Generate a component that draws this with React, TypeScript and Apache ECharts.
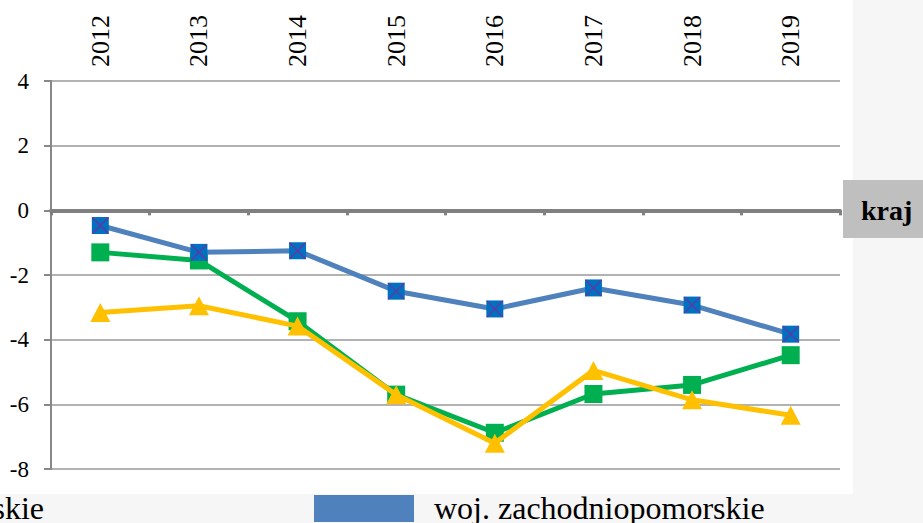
import React, { useEffect, useRef } from "react";
import * as echarts from "echarts";

const years = ["2012", "2013", "2014", "2015", "2016", "2017", "2018", "2019"];
const zachodniopomorskie = [-0.47, -1.3, -1.25, -2.5, -3.05, -2.4, -2.93, -3.83];
const greenSeries = [-1.3, -1.55, -3.43, -5.7, -6.88, -5.68, -5.4, -4.48];
const yellowSeries = [-3.16, -2.95, -3.58, -5.7, -7.2, -4.95, -5.86, -6.34];
const yTicks = { min: -8, max: 4, interval: 2 };
const legendName = "woj. zachodniopomorskie";
const cutLegendText = "skie";
const zeroLabel = "kraj";

const SERIF = "Liberation Serif";

export default function App() {
  const ref = useRef<HTMLDivElement>(null);
  useEffect(() => {
    if (!ref.current) return;
    const chart = echarts.init(ref.current, null, { renderer: "svg" });
    chart.setOption({
      animation: false,
      backgroundColor: "#ffffff",
      textStyle: { fontFamily: SERIF },
      grid: { left: 51, right: 83, top: 81, bottom: 54, containLabel: false },
      xAxis: [
        {
          type: "category",
          data: years,
          position: "top",
          boundaryGap: true,
          axisLine: { show: false, onZero: false },
          axisTick: { show: false },
          splitLine: { show: false },
          axisLabel: {
            rotate: -90,
            margin: 14,
            fontSize: 26,
            fontFamily: SERIF,
            color: "#000",
          },
        },
        {
          type: "category",
          data: years,
          position: "bottom",
          boundaryGap: true,
          axisLine: { show: true, onZero: true, lineStyle: { color: "#808080", width: 4 } },
          axisTick: { show: true, length: 5, lineStyle: { color: "#808080", width: 3 } },
          axisLabel: { show: false },
          splitLine: { show: false },
        },
      ],
      yAxis: {
        type: "value",
        min: yTicks.min,
        max: yTicks.max,
        interval: yTicks.interval,
        axisLine: { show: true, lineStyle: { color: "#888888", width: 2 } },
        axisTick: { show: true, length: 7, lineStyle: { color: "#888888", width: 2 } },
        splitLine: { show: true, lineStyle: { color: "#999999", width: 1.5 } },
        axisLabel: { margin: 22, fontSize: 23, fontFamily: SERIF, color: "#000" },
      },
      series: [
        {
          name: "green",
          type: "line",
          data: greenSeries,
          xAxisIndex: 0,
          symbol: "rect",
          symbolSize: 18,
          lineStyle: { color: "#00B050", width: 5 },
          itemStyle: { color: "#00B050" },
          silent: true,
          z: 3,
        },
        {
          name: "yellow",
          type: "line",
          data: yellowSeries,
          xAxisIndex: 0,
          symbol: "triangle",
          symbolSize: [20, 19],
          lineStyle: { color: "#FFC000", width: 5 },
          itemStyle: { color: "#FFC000" },
          silent: true,
          z: 4,
        },
        {
          name: legendName,
          type: "line",
          data: zachodniopomorskie,
          xAxisIndex: 0,
          symbol: "rect",
          symbolSize: 17,
          lineStyle: { color: "#4F81BD", width: 5 },
          itemStyle: { color: "#0070C0" },
          silent: true,
          z: 5,
        },
        {
          name: legendName + " x",
          type: "line",
          data: zachodniopomorskie,
          xAxisIndex: 0,
          symbol: "path://M0,0L10,10M10,0L0,10",
          symbolSize: 16,
          showAllSymbol: true,
          lineStyle: { width: 0, opacity: 0 },
          itemStyle: { color: "rgba(0,0,0,0)", borderColor: "#7030A0", borderWidth: 1.2 },
          silent: true,
          z: 6,
        },
      ],
      graphic: [
        { type: "rect", shape: { x: 853, y: 0, width: 70, height: 523 }, style: { fill: "#f6f6f6" }, z: -10 },
        { type: "rect", shape: { x: 0, y: 494, width: 853, height: 29 }, style: { fill: "#f6f6f6" }, z: -10 },
        { type: "rect", shape: { x: 843, y: 180, width: 90, height: 58 }, style: { fill: "#BFBFBF" } },
        {
          type: "text",
          x: 861,
          y: 210,
          style: {
            text: zeroLabel,
            fontFamily: SERIF,
            fontSize: 28,
            fontWeight: "bold",
            fill: "#000",
            verticalAlign: "middle",
            align: "left",
          },
        },
        { type: "rect", shape: { x: 314, y: 495, width: 100, height: 27 }, style: { fill: "#4F81BD" } },
        {
          type: "text",
          x: 434,
          y: 508,
          style: {
            text: legendName,
            fontFamily: SERIF,
            fontSize: 32,
            fill: "#000",
            verticalAlign: "middle",
            align: "left",
          },
        },
        {
          type: "text",
          x: 44,
          y: 508,
          style: {
            text: cutLegendText,
            fontFamily: SERIF,
            fontSize: 32,
            fill: "#000",
            verticalAlign: "middle",
            align: "right",
          },
        },
      ],
    });
    return () => chart.dispose();
  }, []);
  return <div ref={ref} style={{ width: 923, height: 523, position: "absolute", left: 0, top: 0 }} />;
}
